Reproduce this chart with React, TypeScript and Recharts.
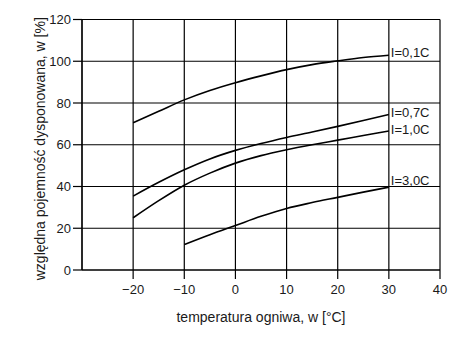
import { LineChart, Line, XAxis, YAxis, CartesianGrid, Label, LabelList } from 'recharts'

// temperatura ogniwa [°C] i względna pojemność dla kolejnych prądów rozładowania
const temps = [-20, -15, -10, -5, 0, 5, 10, 15, 20, 25, 30]
const w01 = [70.5, 76, 81.5, 86, 89.7, 93, 96, 98.4, 100.2, 101.8, 102.9]
const w07 = [35.4, 42, 48, 53.2, 57.3, 60.6, 63.5, 66.1, 68.8, 71.6, 74.5]
const w10 = [25, 33.2, 40.6, 46.4, 51.2, 54.8, 57.6, 60, 62.2, 64.4, 66.6]
const w30 = [null, null, 12.2, 16.9, 21.3, 25.7, 29.5, 32.3, 34.8, 37.3, 39.7]
const seriesNames = ['I=0,1C', 'I=0,7C', 'I=1,0C', 'I=3,0C']
const xTicks = [-20, -10, 0, 10, 20, 30, 40]
const yTicks = [0, 20, 40, 60, 80, 100, 120]

const data = temps.map((t, i) => ({ t, s0: w01[i], s1: w07[i], s2: w10[i], s3: w30[i] }))

const FONT = '"Liberation Sans", Arial, sans-serif'
const INK = '#1a1a1a'

// podpis przy końcu krzywej (tylko ostatni punkt)
const endLabel = (name: string, dy: number) => (props: any) => {
  if (props.index !== temps.length - 1) return null
  return (
    <text x={props.x + 2} y={props.y + dy} fontSize={13} fontFamily={FONT} fill={INK}>
      {name}
    </text>
  )
}

const YTitle = ({ viewBox }: any) => {
  const x = viewBox.x + 18
  const y = viewBox.y + viewBox.height / 2 + 4
  return (
    <text x={x} y={y} transform={`rotate(-90 ${x} ${y})`} textAnchor="middle" dominantBaseline="central"
      fontSize={14} fontFamily={FONT} fill={INK}>
      względna pojemność dysponowana, w [%]
    </text>
  )
}

const XTitle = ({ viewBox }: any) => {
  const x = viewBox.x + viewBox.width / 2
  return (
    <text x={x} y={viewBox.y + 52} textAnchor="middle" fontSize={14} fontFamily={FONT} fill={INK}>
      temperatura ogniwa, w [°C]
    </text>
  )
}

const minus = (v: number) => String(v).replace('-', '\u2212')

export default function App() {
  const keys = ['s0', 's1', 's2', 's3']
  const offsets = [2, 3, 3, -2]
  return (
    <div style={{ position: 'absolute', left: 0, top: 0, background: '#fff' }}>
      <LineChart width={460} height={337} data={data} margin={{ top: 19.5, right: 20, bottom: 7, left: 22 }}>
        <CartesianGrid stroke="#000" strokeWidth={1.2} />
        <XAxis
          dataKey="t"
          type="number"
          domain={[-30, 40]}
          ticks={xTicks}
          tickFormatter={minus}
          height={60}
          tickSize={9}
          tickMargin={6}
          axisLine={{ stroke: '#000', strokeWidth: 1.2 }}
          tickLine={{ stroke: '#000', strokeWidth: 1.2 }}
          tick={{ fontSize: 13, fontFamily: FONT, fill: INK }}
          allowDataOverflow
        >
          <Label content={<XTitle />} />
        </XAxis>
        <YAxis
          type="number"
          domain={[0, 120]}
          ticks={yTicks}
          width={60}
          tickSize={9}
          axisLine={{ stroke: '#000', strokeWidth: 1.2 }}
          tickLine={{ stroke: '#000', strokeWidth: 1.2 }}
          tick={{ fontSize: 13, fontFamily: FONT, fill: INK }}
        >
          <Label content={<YTitle />} />
        </YAxis>
        {keys.map((k, i) => (
          <Line
            key={k}
            dataKey={k}
            type="monotone"
            stroke="#000"
            strokeWidth={1.6}
            dot={false}
            isAnimationActive={false}
          >
            <LabelList dataKey={k} content={endLabel(seriesNames[i], offsets[i])} />
          </Line>
        ))}
      </LineChart>
    </div>
  )
}
